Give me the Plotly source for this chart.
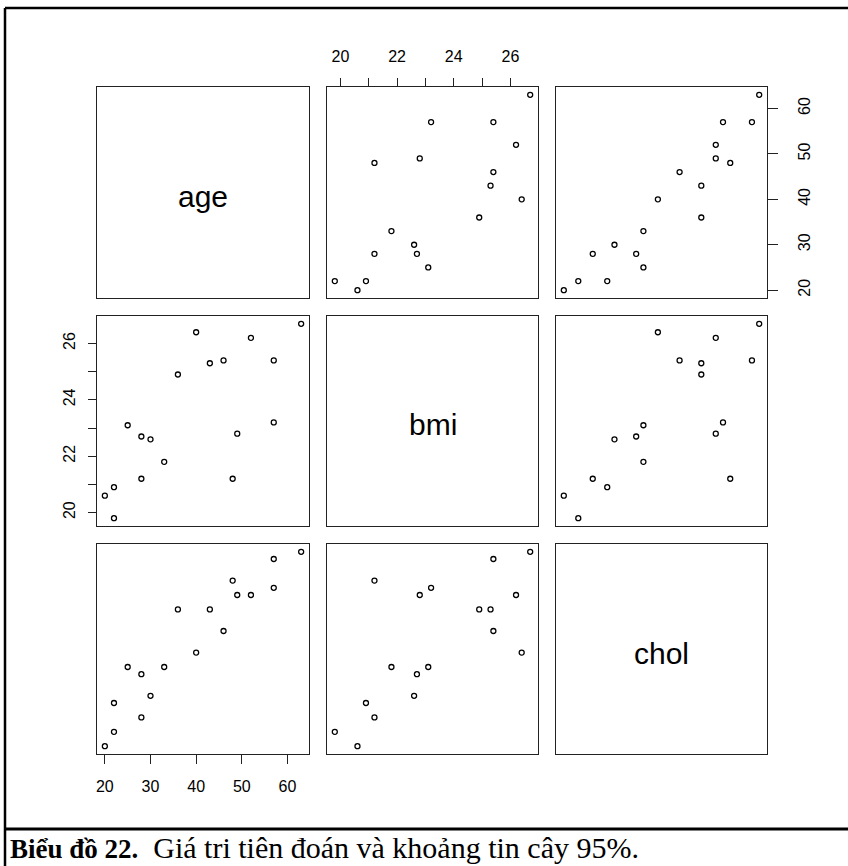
import plotly.graph_objects as go

# Patient measurements
age = [46, 20, 52, 30, 57, 25, 28, 36, 22, 43, 57, 33, 22, 63, 40, 48, 28, 49]
bmi = [25.4, 20.6, 26.2, 22.6, 25.4, 23.1, 22.7, 24.9, 19.8, 25.3,
       23.2, 21.8, 20.9, 26.7, 26.4, 21.2, 21.2, 22.8]
chol = [3.5, 1.9, 4.0, 2.6, 4.5, 3.0, 2.9, 3.8, 2.1, 3.8,
        4.1, 3.0, 2.5, 4.6, 3.2, 4.2, 2.3, 4.0]

var_names = ["age", "bmi", "chol"]
var_data = [age, bmi, chol]

# Tick marks and labels for each variable
age_ticks = [20, 30, 40, 50, 60]
age_labels = ["20", "30", "40", "50", "60"]
bmi_ticks = [20, 21, 22, 23, 24, 25, 26]
bmi_labels = ["20", "", "22", "", "24", "", "26"]
chol_ticks = [2.0, 2.5, 3.0, 3.5, 4.0, 4.5]
chol_labels = ["2.0", "2.5", "3.0", "3.5", "4.0", "4.5"]
tick_sets = [(age_ticks, age_labels), (bmi_ticks, bmi_labels), (chol_ticks, chol_labels)]

W, H = 848, 866
col_px = [(97, 309), (327, 538), (556, 767)]
row_px = [(87, 298), (316, 526), (544, 754)]

FONT = "Liberation Sans, Arial, sans-serif"
LINE = "#222222"
TICKFONT = dict(family=FONT, size=16, color="black")


def padded(v):
    lo, hi = min(v), max(v)
    d = (hi - lo) * 0.04
    return [lo - d, hi + d]


fig = go.Figure()
layout = dict(
    width=W, height=H, margin=dict(l=0, r=0, t=0, b=0),
    paper_bgcolor="white", plot_bgcolor="white", showlegend=False,
)
annotations = []

k = 0
for i in range(3):
    for j in range(3):
        k += 1
        xa = "xaxis" if k == 1 else f"xaxis{k}"
        ya = "yaxis" if k == 1 else f"yaxis{k}"
        xr = "x" if k == 1 else f"x{k}"
        yr = "y" if k == 1 else f"y{k}"
        x0, x1 = col_px[j]
        y0, y1 = row_px[i]
        xax = dict(domain=[x0 / W, x1 / W], anchor=yr, showgrid=False, zeroline=False,
                   showline=True, mirror=True, linecolor=LINE, linewidth=1.3,
                   showticklabels=False, ticks="", fixedrange=True)
        yax = dict(domain=[1 - y1 / H, 1 - y0 / H], anchor=xr, showgrid=False, zeroline=False,
                   showline=True, mirror=True, linecolor=LINE, linewidth=1.3,
                   showticklabels=False, ticks="", fixedrange=True)
        if i == j:
            xax["range"] = [0, 1]
            yax["range"] = [0, 1]
            fig.add_trace(go.Scatter(x=[], y=[], xaxis=xr, yaxis=yr, hoverinfo="skip"))
            annotations.append(dict(
                text=var_names[i], xref=f"{xr} domain", yref=f"{yr} domain",
                x=0.5, y=0.5, yshift=-4, showarrow=False,
                font=dict(family=FONT, size=30, color="black")))
        else:
            xax["range"] = padded(var_data[j])
            yax["range"] = padded(var_data[i])
            fig.add_trace(go.Scatter(
                x=var_data[j], y=var_data[i], mode="markers", xaxis=xr, yaxis=yr,
                marker=dict(symbol="circle-open", size=5, color="black",
                            line=dict(width=1.3, color="black"))))

        # outer axes, alternating sides as in a pairs plot
        tv, tt = tick_sets[j]
        if i == 0 and j == 1:
            xax.update(side="top", ticks="outside", ticklen=8, tickwidth=1.2, tickcolor=LINE,
                       tickvals=tv, ticktext=tt, showticklabels=True, ticklabelstandoff=9,
                       tickfont=TICKFONT)
        if i == 2 and j in (0, 2):
            xax.update(side="bottom", ticks="outside", ticklen=9, tickwidth=1.2, tickcolor=LINE,
                       tickvals=tv, ticktext=tt, showticklabels=True, ticklabelstandoff=9,
                       tickfont=TICKFONT)
        tv, tt = tick_sets[i]
        if j == 0 and i == 1:
            yax.update(side="left", ticks="outside", ticklen=8, tickwidth=1.2, tickcolor=LINE,
                       tickvals=tv, ticktext=tt, showticklabels=True, tickangle=-90,
                       ticklabelstandoff=6, tickfont=TICKFONT)
        if j == 2 and i in (0, 2):
            yax.update(side="right", ticks="outside", ticklen=10, tickwidth=1.2, tickcolor=LINE,
                       tickvals=tv, ticktext=tt, showticklabels=True, tickangle=-90,
                       ticklabelstandoff=13, tickfont=TICKFONT)
        layout[xa] = xax
        layout[ya] = yax

# page frame and caption
shapes = [
    dict(type="line", xref="paper", yref="paper", x0=5 / W, x1=1.01, y0=1 - 8 / H, y1=1 - 8 / H,
         line=dict(color="black", width=2.5)),
    dict(type="line", xref="paper", yref="paper", x0=5 / W, x1=5 / W, y0=1 - 8 / H, y1=-0.01,
         line=dict(color="black", width=2.5)),
    dict(type="line", xref="paper", yref="paper", x0=5 / W, x1=1.01, y0=1 - 829 / H, y1=1 - 829 / H,
         line=dict(color="black", width=3)),
]
annotations.append(dict(
    text="<b><span style='font-size:27px'>Biểu đồ 22.</span></b>"
         "\u00a0\u00a0Giá tri tiên đoán và khoảng tin cây 95%.",
    xref="paper", yref="paper", x=8 / W, y=1 - 866 / H, xanchor="left", yanchor="bottom",
    showarrow=False, font=dict(family="Liberation Serif, Times New Roman, serif", size=30,
                               color="black")))

layout["shapes"] = shapes
layout["annotations"] = annotations
fig.update_layout(**layout)
fig.write_html("out.html")
